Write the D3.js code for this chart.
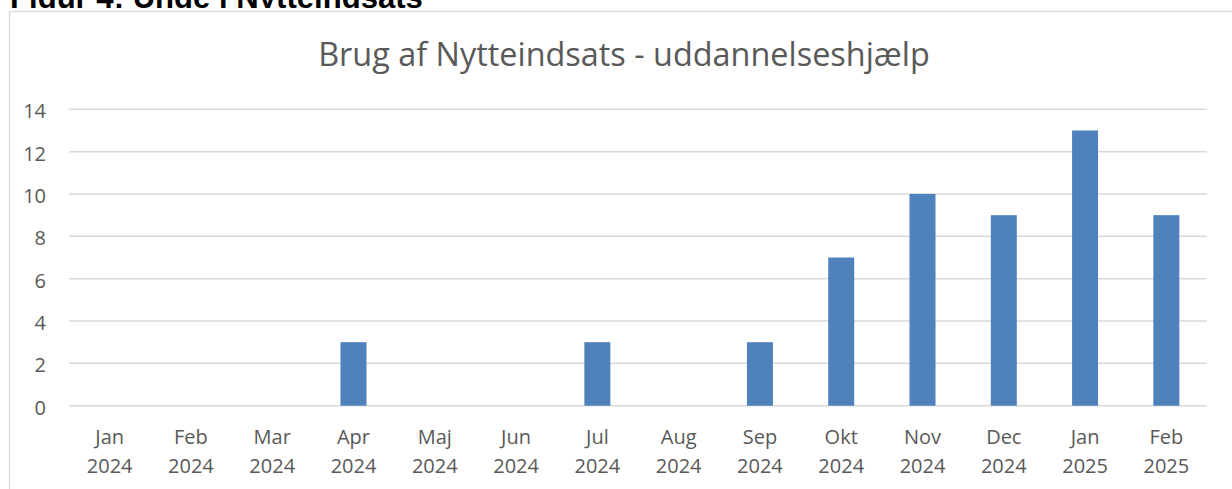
<!DOCTYPE html>
<html>
<head>
<meta charset="utf-8">
<script src="https://cdn.jsdelivr.net/npm/d3@7"></script>
<style>
  html, body { margin: 0; padding: 0; background: #fff; }
  svg { display: block; }
</style>
</head>
<body>
<svg id="chart" width="1232" height="489"></svg>
<script>
const months = ["Jan", "Feb", "Mar", "Apr", "Maj", "Jun", "Jul", "Aug", "Sep", "Okt", "Nov", "Dec", "Jan", "Feb"];
const years = ["2024", "2024", "2024", "2024", "2024", "2024", "2024", "2024", "2024", "2024", "2024", "2024", "2025", "2025"];
const values = [0, 0, 0, 3, 0, 0, 3, 0, 3, 7, 10, 9, 13, 9];
const yTicks = [0, 2, 4, 6, 8, 10, 12, 14];
const figureHeading = "Figur 4: Unge i Nytteindsats";
const chartTitle = "Brug af Nytteindsats - uddannelseshjælp";

const categories = months.map((m, i) => m + " " + years[i]);
const data = categories.map((c, i) => ({ key: c, month: months[i], year: years[i], value: values[i] }));

const svg = d3.select("#chart");
const font = "'Open Sans', sans-serif";
const textColor = "#595959";

// Figure heading (cut off at top, as in the source page)
svg.append("clipPath").attr("id", "headClip")
  .append("rect").attr("x", 0).attr("y", 0).attr("width", 1232).attr("height", 8);
const heading = svg.append("text")
  .attr("x", 10).attr("y", 7.5)
  .attr("clip-path", "url(#headClip)")
  .attr("font-family", "'Liberation Sans', Arial, sans-serif")
  .attr("font-weight", "bold")
  .attr("font-size", 24)
  .attr("fill", "#000")
  .text(figureHeading);
{
  const w = heading.node().getComputedTextLength();
  heading.attr("font-size", 24 * 413 / w);
}

// Chart border
svg.append("rect")
  .attr("x", 9.5).attr("y", 11.5)
  .attr("width", 1240).attr("height", 500)
  .attr("fill", "#fff")
  .attr("stroke", "#d9d9d9").attr("stroke-width", 1.3);

// Chart title
const title = svg.append("text")
  .attr("x", 624).attr("y", 66)
  .attr("text-anchor", "middle")
  .attr("font-family", font)
  .attr("font-size", 30)
  .attr("fill", textColor)
  .text(chartTitle);
{
  const w = title.node().getComputedTextLength();
  title.attr("font-size", 30 * 612 / w);
}

const plot = { left: 69, right: 1207, top: 109.3, bottom: 405.7 };

const x = d3.scaleBand()
  .domain(categories)
  .range([plot.left, plot.right])
  .paddingInner(0.68)
  .paddingOuter(0.34);

const y = d3.scaleLinear()
  .domain([0, 14])
  .range([plot.bottom, plot.top]);

// Gridlines
svg.append("g")
  .selectAll("line")
  .data(yTicks)
  .join("line")
  .attr("x1", plot.left).attr("x2", plot.right)
  .attr("y1", d => y(d)).attr("y2", d => y(d))
  .attr("stroke", "#d9d9d9")
  .attr("stroke-width", 1.5);

// Y axis labels
const yAxis = d3.axisLeft(y).tickValues(yTicks).tickSize(0).tickPadding(0).tickFormat(d3.format("d"));
const yg = svg.append("g")
  .attr("transform", `translate(46,0)`)
  .call(yAxis);
yg.select(".domain").remove();
yg.selectAll("text")
  .attr("font-family", font)
  .attr("font-size", 20)
  .attr("fill", textColor)
  .attr("dy", "0.42em");

// Bars
svg.append("g")
  .selectAll("rect")
  .data(data)
  .join("rect")
  .attr("x", d => x(d.key))
  .attr("width", x.bandwidth())
  .attr("y", d => y(d.value))
  .attr("height", d => y(0) - y(d.value))
  .attr("fill", "#4f81bd");

// X axis labels (two lines)
const xAxis = d3.axisBottom(x).tickSize(0).tickFormat(() => "");
const xg = svg.append("g")
  .attr("transform", `translate(0,${plot.bottom})`)
  .call(xAxis);
xg.select(".domain").remove();
xg.selectAll(".tick text").remove();
xg.selectAll(".tick").each(function(d, i) {
  const t = d3.select(this).append("text")
    .attr("text-anchor", "middle")
    .attr("font-family", font)
    .attr("font-size", 20)
    .attr("fill", textColor);
  t.append("tspan").attr("x", 0).attr("y", 444 - plot.bottom).text(months[i]);
  t.append("tspan").attr("x", 0).attr("y", 473 - plot.bottom).text(years[i]);
});
</script>
</body>
</html>
